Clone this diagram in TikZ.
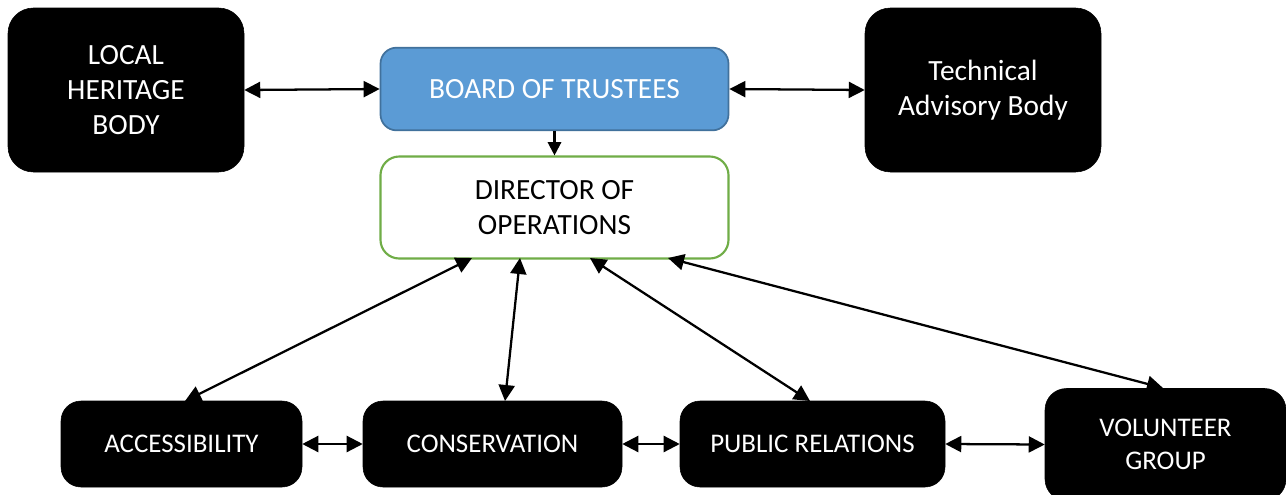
\documentclass[tikz,border=0pt]{standalone}
\usepackage{fontspec}
\setmainfont{Carlito}
\usetikzlibrary{arrows.meta}
\definecolor{boardfill}{HTML}{5B9BD5}
\definecolor{boardline}{HTML}{41719C}
\definecolor{dirline}{HTML}{70AD47}
\tikzset{
  boxfont/.style={font=\fontsize{22}{26.3}\selectfont},
  smallfont/.style={font=\fontsize{20.2}{24.7}\selectfont},
  blackbox/.style={fill=black, draw=black, rounded corners=15pt, text=white, align=center, boxfont, inner sep=0pt},
  link/.style={line width=1.7pt, {Triangle[length=12pt,width=12pt]}-{Triangle[length=12pt,width=12pt]}},
  onelink/.style={line width=1.7pt, -{Triangle[length=10pt,width=10pt]}},
}
\begin{document}
\begin{tikzpicture}[x=0.75pt,y=-0.75pt]
\clip (0,0) rectangle (1286,494);
\fill[white] (0,0) rectangle (1286,494);
% top row
\node[blackbox, minimum width=177pt, minimum height=123pt, rounded corners=19pt] (lhb) at (126,90) {LOCAL\\HERITAGE\\BODY};
\node[blackbox, minimum width=177pt, minimum height=123pt, rounded corners=19pt] (tab) at (983,90) {Technical\\Advisory Body};
\node[fill=boardfill, draw=boardline, line width=1.3pt, rounded corners=12pt, text=white, boxfont, minimum width=261pt, minimum height=62pt, inner sep=0pt] (board) at (554.5,89) {BOARD OF TRUSTEES};
\node[fill=white, draw=dirline, line width=1.6pt, rounded corners=14pt, align=center, boxfont, minimum width=261pt, minimum height=76.5pt, inner sep=0pt] (dir) at (554.5,207.5) {DIRECTOR OF\\OPERATIONS};
% bottom row
\node[blackbox, smallfont, minimum width=180.75pt, minimum height=64.5pt] (acc) at (181.5,444) {ACCESSIBILITY};
\node[blackbox, smallfont, minimum width=194.25pt, minimum height=64.5pt] (cons) at (492.5,444) {CONSERVATION};
\node[blackbox, smallfont, minimum width=198.75pt, minimum height=64.5pt] (pr) at (812.5,444) {PUBLIC RELATIONS};
\node[blackbox, smallfont, minimum width=180.75pt, minimum height=84pt, rounded corners=16pt] (vol) at (1165.5,444.5) {VOLUNTEER\\GROUP};
% anchor coordinates
\coordinate (d1) at (472,258);
\coordinate (d2) at (520,258);
\coordinate (d3) at (590,258);
\coordinate (d4) at (668,258);
\coordinate (a1) at (185,401);
\coordinate (c1) at (505,401);
\coordinate (p1) at (810,401);
\coordinate (v1) at (1163,388);
% connectors
\draw[link] (lhb.east) -- (board.west);
\draw[link] (board.east) -- (tab.east -| tab.west);
\draw[onelink] (board.south) -- (board.south |- dir.north);
\draw[link] (a1) -- (d1);
\draw[link] (c1) -- (d2);
\draw[link] (p1) -- (d3);
\draw[link] (v1) -- (d4);
\draw[link] (acc.east) -- (cons.west);
\draw[link] (cons.east) -- (pr.west);
\draw[link] (pr.east) -- (vol.west);
\end{tikzpicture}
\end{document}
